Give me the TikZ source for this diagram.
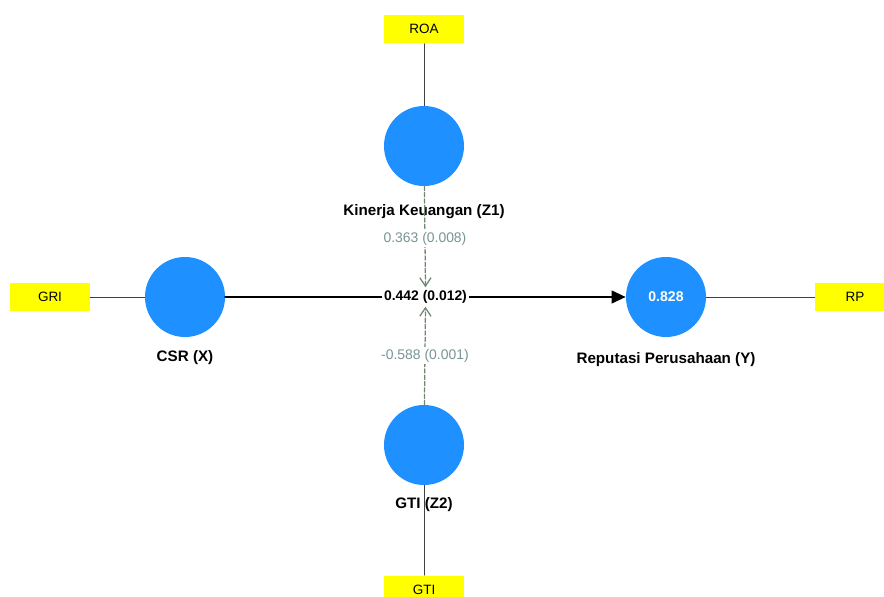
\documentclass[tikz,border=0pt]{standalone}
\usepackage{fontspec}
\setmainfont{Liberation Sans}
\usetikzlibrary{arrows.meta}
\definecolor{lv}{RGB}{30,144,255}
\definecolor{ind}{RGB}{255,255,0}
\definecolor{modl}{RGB}{112,135,112}
\definecolor{modt}{RGB}{120,148,148}
\tikzset{
  lvar/.style={circle, fill=lv, minimum size=2cm, inner sep=0pt, text=white, font=\bfseries\fontsize{10}{12}\selectfont},
  mvar/.style={fill=ind, minimum width=2cm, minimum height=0.72cm, inner sep=0pt, font=\fontsize{9.6}{11}\selectfont},
  lbl/.style={font=\bfseries\fontsize{10.8}{13}\selectfont},
  load/.style={draw=black!75, line width=0.5pt},
  modarr/.style={draw=modl, dash pattern=on 3pt off 1.5pt, line width=0.9pt, -{Straight Barb[length=6pt,width=8pt]}},
  modlbl/.style={fill=white, text=modt, font=\fontsize{9.9}{12}\selectfont, inner sep=1.5pt}
}
\begin{document}
\begin{tikzpicture}[x=0.025cm, y=-0.025cm, line join=round, line cap=round]
	\useasboundingbox (0,0) rectangle (884,597);
	% Konstruk laten
	\node[lvar] (csr) at (185,297) {};
	\node[lvar] (rep) at (666,297) {0.828};
	\node[lvar] (kin) at (424,146) {};
	\node[lvar] (gti) at (424,445) {};
	\node[lbl] at (185,358) {CSR (X)};
	\node[lbl] at (666,360) {Reputasi Perusahaan (Y)};
	\node[lbl] at (424,212) {Kinerja Keuangan (Z1)};
	\node[lbl] at (424,505) {GTI (Z2)};
	% Indikator
	\node[mvar] (gri) at (50,297) {GRI};
	\node[mvar] (rp) at (855,297) {RP};
	\node[mvar] (roa) at (424,29) {ROA};
	\node[mvar] (gtii) at (424,590) {GTI};
	\draw[load] (gri) -- (csr);
	\draw[load] (rep) -- (rp);
	\draw[load] (roa) -- (kin);
	\draw[load] (gtii) -- (gti);
	% Jalur utama
	\draw[line width=1.6pt, -{Triangle[length=10pt,width=9pt]}] (csr) -- (rep)
		node[pos=0.5, fill=white, font=\bfseries\fontsize{9.9}{12}\selectfont, inner sep=1.5pt] (eff) {0.442 (0.012)};
	% Moderasi
	\draw[modarr] (kin) -- (eff.north) node[pos=0.52, modlbl] {0.363 (0.008)};
	\draw[modarr] (gti) -- (eff.south) node[pos=0.5, modlbl] {-0.588 (0.001)};
\end{tikzpicture}
\end{document}
